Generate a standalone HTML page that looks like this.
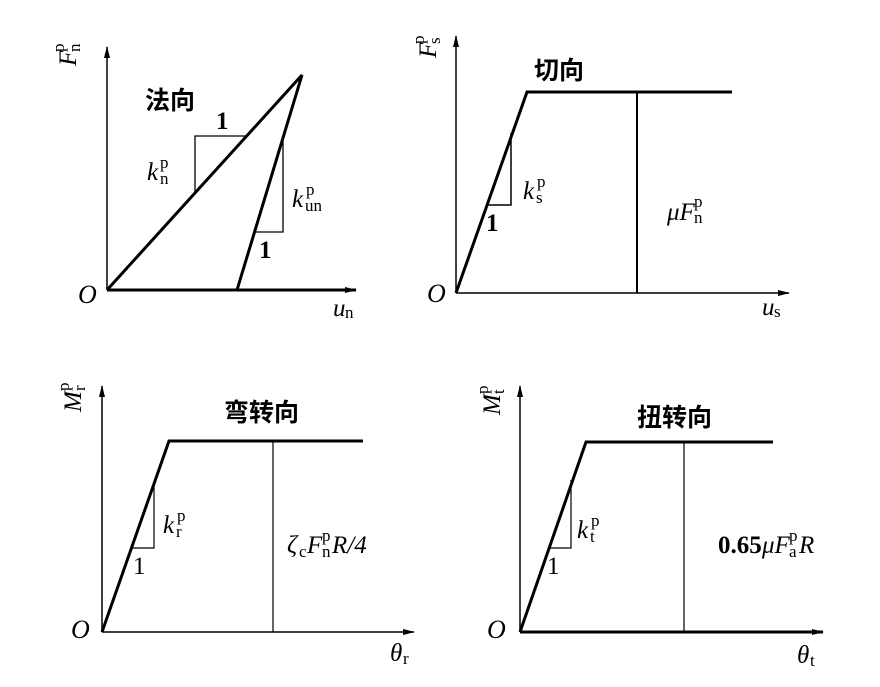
<!DOCTYPE html>
<html><head><meta charset="utf-8"><style>
html,body{margin:0;padding:0;background:#fff;}
svg{display:block;}
text{font-family:"Liberation Serif",serif;fill:#000;}
.cn{font-family:"Liberation Sans","Noto Sans CJK SC",sans-serif;font-size:25px;font-weight:bold;}
.it{font-style:italic;}
.b{font-weight:bold;}
</style></head><body>
<svg width="880" height="687" viewBox="0 0 880 687" xmlns="http://www.w3.org/2000/svg">
<defs>
<marker id="ar" markerWidth="12" markerHeight="8" refX="11" refY="4" orient="auto" markerUnits="userSpaceOnUse">
<path d="M0,1 L12,4 L0,7 Z" fill="#000"/></marker>
</defs>
<g stroke="#000" fill="none">
<line x1="107" y1="290" x2="107" y2="47" stroke-width="1.5" marker-end="url(#ar)"/>
<line x1="107" y1="290" x2="356" y2="290" stroke-width="3" marker-end="url(#ar)"/>
<polyline points="107,290 302,75 237,290" stroke-width="3"/>
<polyline points="195,192 195,136 246,136" stroke-width="1.3"/>
<polyline points="283,141 283,232 255,232" stroke-width="1.3"/>
<line x1="456" y1="293" x2="456" y2="36" stroke-width="1.5" marker-end="url(#ar)"/>
<line x1="456" y1="293" x2="789" y2="293" stroke-width="1.5" marker-end="url(#ar)"/>
<polyline points="456,293 527,92 732,92" stroke-width="3"/>
<line x1="637" y1="92" x2="637" y2="293" stroke-width="2"/>
<polyline points="511,133 511,205 487,205" stroke-width="1.5"/>
<line x1="102" y1="632" x2="102" y2="386" stroke-width="1.5" marker-end="url(#ar)"/>
<line x1="102" y1="632" x2="414" y2="632" stroke-width="1.5" marker-end="url(#ar)"/>
<polyline points="102,632 169,441 363,441" stroke-width="3"/>
<line x1="273" y1="441" x2="273" y2="632" stroke-width="1.2"/>
<polyline points="154,482 154,548 132,548" stroke-width="1.2"/>
<line x1="520" y1="632" x2="520" y2="386" stroke-width="1.5" marker-end="url(#ar)"/>
<line x1="520" y1="632" x2="823" y2="632" stroke-width="3" marker-end="url(#ar)"/>
<polyline points="520,632 586,442 773,442" stroke-width="3"/>
<line x1="684" y1="442" x2="684" y2="632" stroke-width="1.2"/>
<polyline points="571,480 571,548 550,548" stroke-width="1.2"/>
</g>
<text class="cn" x="145" y="109">法向</text>
<text class="b" x="216" y="129" font-size="25">1</text>
<text class="it" x="147" y="180" font-size="25">k</text><text x="160" y="184" font-size="17">n</text><text x="160" y="168" font-size="17">p</text>
<text class="it" x="292" y="207" font-size="25">k</text><text x="305" y="211" font-size="17">un</text><text x="306" y="195" font-size="17">p</text>
<text class="b" x="259" y="258" font-size="25">1</text>
<text class="it" x="78" y="303" font-size="26">O</text>
<text class="it" x="333" y="316" font-size="25">u</text><text x="345" y="318" font-size="17">n</text>
<g transform="translate(76,66) rotate(-90)"><text class="it" font-size="25">F</text><text x="14" y="-12" font-size="17">p</text><text x="14" y="4" font-size="17">n</text></g>
<text class="cn" x="534" y="79">切向</text>
<text class="it" x="523" y="199" font-size="25">k</text><text x="536" y="203" font-size="17">s</text><text x="537" y="187" font-size="17">p</text>
<text class="b" x="486" y="231" font-size="25">1</text>
<text class="it" x="667" y="220" font-size="25">μF</text><text x="694" y="223" font-size="17">n</text><text x="694" y="207" font-size="17">p</text>
<text class="it" x="427" y="302" font-size="26">O</text>
<text class="it" x="762" y="315" font-size="25">u</text><text x="774" y="317" font-size="17">s</text>
<g transform="translate(436,58) rotate(-90)"><text class="it" font-size="25">F</text><text x="14" y="-12" font-size="17">p</text><text x="14" y="4" font-size="17">s</text></g>
<text class="cn" x="224" y="421">弯转向</text>
<text class="it" x="163" y="533" font-size="25">k</text><text x="176" y="537" font-size="17">r</text><text x="177" y="521" font-size="17">p</text>
<text x="133" y="574" font-size="25">1</text>
<text class="it" x="287" y="553" font-size="25">ζ</text><text x="299" y="557" font-size="17">c</text><text class="it" x="307" y="553" font-size="25">F</text><text x="322" y="557" font-size="17">n</text><text x="322" y="541" font-size="17">p</text><text class="it" x="332" y="553" font-size="25">R/4</text>
<text class="it" x="71" y="638" font-size="26">O</text>
<text class="it" x="390" y="661" font-size="25">θ</text><text x="403" y="664" font-size="17">r</text>
<g transform="translate(81,412) rotate(-90)"><text class="it" font-size="25">M</text><text x="21" y="-12" font-size="17">p</text><text x="21" y="4" font-size="17">r</text></g>
<text class="cn" x="637" y="426">扭转向</text>
<text class="it" x="577" y="538" font-size="25">k</text><text x="590" y="542" font-size="17">t</text><text x="591" y="526" font-size="17">p</text>
<text x="547" y="574" font-size="25">1</text>
<text class="b" x="718" y="553" font-size="25">0.65</text><text class="it" x="762" y="553" font-size="25">μF</text><text x="789" y="557" font-size="17">a</text><text x="789" y="541" font-size="17">p</text><text class="it" x="799" y="553" font-size="25">R</text>
<text class="it" x="487" y="638" font-size="26">O</text>
<text class="it" x="797" y="663" font-size="25">θ</text><text x="810" y="666" font-size="17">t</text>
<g transform="translate(500,415) rotate(-90)"><text class="it" font-size="25">M</text><text x="21" y="-12" font-size="17">p</text><text x="21" y="4" font-size="17">t</text></g>
</svg>
</body></html>
